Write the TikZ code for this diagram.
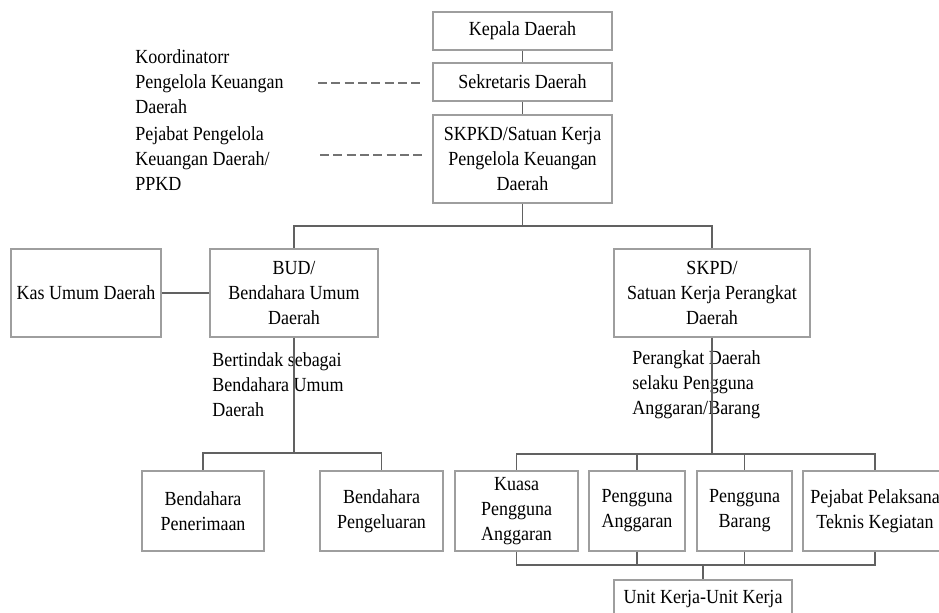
\documentclass[tikz,border=0pt]{standalone}
\usepackage{fontspec}
\setmainfont{Liberation Serif}[FakeStretch=0.9]
\usetikzlibrary{positioning}

\begin{document}
\begin{tikzpicture}[x=0.75pt,y=-0.75pt,
		font=\fontsize{15}{18.75}\selectfont,
		boxnode/.style={draw=black!38,line width=1.1pt,align=center,inner sep=0pt},
		notenode/.style={align=left,inner sep=0pt,anchor=west},
		link/.style={draw=black!62,line width=0.9pt},
		dashlink/.style={draw=black!55,line width=0.9pt,dash pattern=on 6.8pt off 3.2pt}]
		\useasboundingbox (0,0) rectangle (939,612);

		\node[boxnode,minimum width=134pt,minimum height=28.5pt]	at (522.5,31)	(kd)	{Kepala Daerah};
		\node[boxnode,minimum width=134pt,minimum height=28.5pt]	at (522.5,82)	(sd)	{Sekretaris Daerah};
		\node[boxnode,minimum width=134pt,minimum height=66pt]	at (522.5,159)	(skpkd)	{SKPKD/Satuan Kerja\\Pengelola Keuangan\\Daerah};
		\node[boxnode,minimum width=112.5pt,minimum height=66pt]	at (86,293)	(kas)	{Kas Umum Daerah};
		\node[boxnode,minimum width=126pt,minimum height=66pt]	at (294,293)	(bud)	{BUD/\\Bendahara Umum\\Daerah};
		\node[boxnode,minimum width=147pt,minimum height=66pt]	at (712,293)	(skpd)	{SKPD/\\Satuan Kerja Perangkat\\Daerah};
		\node[boxnode,minimum width=91.5pt,minimum height=60pt]	at (203,511)	(bpn)	{Bendahara\\Penerimaan};
		\node[boxnode,minimum width=92pt,minimum height=60pt]	at (381.5,511)	(bpl)	{Bendahara\\Pengeluaran};
		\node[boxnode,minimum width=92pt,minimum height=60pt]	at (516.5,511)	(kpa)	{Kuasa\\Pengguna\\Anggaran};
		\node[boxnode,minimum width=72pt,minimum height=60pt]	at (637,511)	(pa)	{Pengguna\\Anggaran};
		\node[boxnode,minimum width=71pt,minimum height=60pt]	at (744.5,511)	(pb)	{Pengguna\\Barang};
		\node[boxnode,minimum width=108pt,minimum height=60pt]	at (875,511)	(pptk)	{Pejabat Pelaksana\\Teknis Kegiatan};
		\node[boxnode,minimum width=133.5pt,minimum height=28.5pt]	at (703,599)	(uk)	{Unit Kerja-Unit Kerja};

		\node[notenode]	at (135,82)	(koord)	{Koordinatorr\\Pengelola Keuangan\\Daerah};
		\node[notenode]	at (135,159)	(ppkd)	{Pejabat Pengelola\\Keuangan Daerah/\\PPKD};
		\node[notenode]	at (212,385)	(budnote)	{Bertindak sebagai\\Bendahara Umum\\Daerah};
		\node[notenode]	at (632,385)	(skpdnote)	{Perangkat Daerah\\selaku Pengguna\\Anggaran/Barang};

		\coordinate	(d1)	at (318,83);
		\coordinate	(d2)	at (320,155);
		\coordinate	(top)	at (522.5,226);
		\coordinate	(left)	at (294,453);
		\coordinate	(right)	at (712,454);
		\coordinate	(bottom)	at (703,565);

		\draw[dashlink,shorten >=9.5pt] (d1) -- (d1 -| sd.west);
		\draw[dashlink,shorten >=8pt] (d2) -- (d2 -| skpkd.west);
		\draw[link] (kd) -- (sd);
		\draw[link] (sd) -- (skpkd);
		\draw[link] (skpkd) -- (top);
		\draw[link] (top) -| (bud);
		\draw[link] (top) -| (skpd);
		\draw[link] (kas) -- (bud);
		\draw[link] (bud) -- (left);
		\draw[link] (left) -| (bpn);
		\draw[link] (left) -| (bpl);
		\draw[link] (skpd) -- (right);
		\draw[link] (right) -| (kpa);
		\draw[link] (right) -| (pa);
		\draw[link] (right) -| (pb);
		\draw[link] (right) -| (pptk);
		\draw[link] (kpa) |- (bottom);
		\draw[link] (pa) |- (bottom);
		\draw[link] (pb) |- (bottom);
		\draw[link] (pptk) |- (bottom);
		\draw[link] (bottom) -- (uk);
	\end{tikzpicture}
\end{document}
